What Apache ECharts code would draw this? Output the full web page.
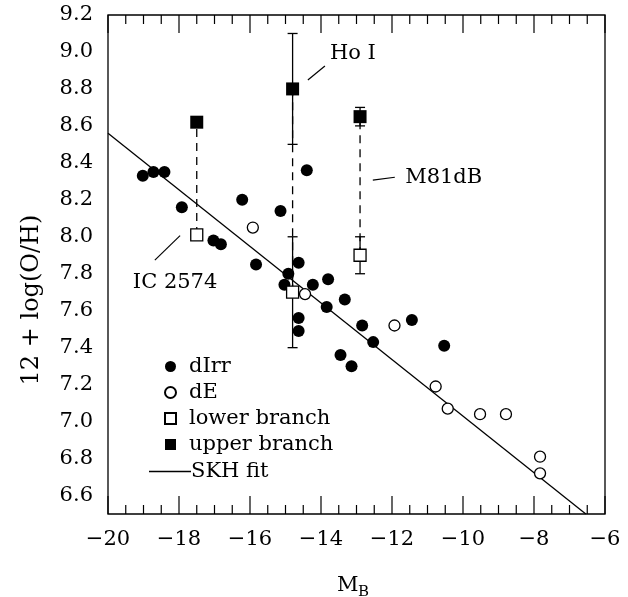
<!DOCTYPE html>
<html>
<head>
<meta charset="utf-8">
<script src="https://cdn.jsdelivr.net/npm/echarts@6/dist/echarts.min.js"></script>
<style>
  html, body { margin: 0; padding: 0; background: #fff; }
  #chart { width: 628px; height: 597px; }
</style>
</head>
<body>
<div id="chart"></div>
<script>
// Oxygen abundance versus absolute blue magnitude for dwarf galaxies.
const FONT = '"DejaVu Serif", "Liberation Serif", serif';

// dwarf irregulars: [M_B, 12 + log(O/H)]
const dIrr = [
  [-19.02, 8.33], [-18.72, 8.35], [-18.41, 8.35], [-17.92, 8.16], [-16.22, 8.20],
  [-15.14, 8.14], [-14.40, 8.36], [-17.03, 7.98], [-16.82, 7.96], [-15.83, 7.85],
  [-14.92, 7.80], [-14.63, 7.86], [-15.03, 7.74], [-14.23, 7.74], [-13.80, 7.77],
  [-13.84, 7.62], [-13.33, 7.66], [-14.63, 7.56], [-14.63, 7.49], [-13.45, 7.36],
  [-13.14, 7.30], [-12.84, 7.52], [-12.53, 7.43], [-11.44, 7.55], [-10.53, 7.41]
];

// dwarf ellipticals
const dE = [
  [-15.92, 8.05], [-14.45, 7.69], [-11.93, 7.52], [-10.77, 7.19], [-10.43, 7.07],
  [-9.52, 7.04], [-8.79, 7.04], [-7.83, 6.81], [-7.83, 6.72]
];

// galaxies with two abundance solutions
const branchNames = ['IC 2574', 'Ho I', 'M81dB'];
const branchMB    = [-17.50, -14.80, -12.90];
const lowerBranch = [8.01, 7.70, 7.90];
const lowerErr    = [0, 0.30, 0.10];
const upperBranch = [8.62, 8.80, 8.65];
const upperErr    = [0, 0.30, 0.05];

// SKH relation, end points of the plotted segment
const skhFit = [[-20, 8.56], [-6.54, 6.50]];

// axis ranges and ticks
const xRange = [-20, -6];
const yRange = [6.5, 9.2];
const xMajor = 2, xMinor = 0.5;
const yLabels = [6.6, 6.8, 7.0, 7.2, 7.4, 7.6, 7.8, 8.0, 8.2, 8.4, 8.6, 8.8, 9.0, 9.2];
const yMinor = 0.05;

// labels next to the two-branch galaxies: text anchor and leader line, in data units
const notes = [
  { text: 'Ho I',    at: [-13.75, 8.994], from: [-14.37, 8.848], to: [-13.89, 8.924] },
  { text: 'M81dB',   at: [-11.63, 8.323], from: [-12.54, 8.307], to: [-11.92, 8.322] },
  { text: 'IC 2574', at: [-19.30, 7.750], from: [-18.68, 7.874], to: [-17.97, 8.006] }
];

const lowerData = branchMB.map((x, i) => [x, lowerBranch[i]]);
const upperData = branchMB.map((x, i) => [x, upperBranch[i]]);
const barData = branchMB.map((x, i) => [x, lowerBranch[i], upperBranch[i], lowerErr[i], upperErr[i]]);

const INK = '#000';
const MAJOR_LEN = 18, MINOR_LEN = 9;
const near = (a, b) => Math.abs(a - b) < 1e-6;
const isYLabel = v => yLabels.some(l => near(l, v));

// inward ticks on all four sides of the box: [M_B, O/H, side kind (0 = x tick, 1 = y tick), length]
const frameTicks = [];
for (let k = 0; k <= Math.round((xRange[1] - xRange[0]) / xMinor); k++) {
  const v = xRange[0] + k * xMinor;
  const major = near(Math.round(v / xMajor) * xMajor, v);
  frameTicks.push([v, (yRange[0] + yRange[1]) / 2, 0, major ? MAJOR_LEN : MINOR_LEN]);
}
for (let k = 0; k <= Math.round((yRange[1] - yRange[0]) / yMinor); k++) {
  const v = +(yRange[0] + k * yMinor).toFixed(2);
  frameTicks.push([(xRange[0] + xRange[1]) / 2, v, 1, isYLabel(v) ? MAJOR_LEN : MINOR_LEN]);
}

const chart = echarts.init(document.getElementById('chart'), null, { renderer: 'canvas' });

const option = {
  animation: false,
  backgroundColor: '#fff',
  grid: { left: 108, top: 15, width: 497, height: 499 },
  xAxis: {
    type: 'value', min: xRange[0], max: xRange[1], interval: xMajor,
    axisLine: { show: false }, axisTick: { show: false }, splitLine: { show: false },
    axisLabel: {
      margin: 15, color: INK, fontFamily: FONT, fontSize: 21,
      formatter: v => (v < 0 ? '\u2212' : '') + Math.abs(v)
    }
  },
  yAxis: {
    type: 'value', min: yRange[0], max: yRange[1], interval: yMinor,
    axisLine: { show: false }, axisTick: { show: false }, splitLine: { show: false },
    axisLabel: {
      margin: 15, color: INK, fontFamily: FONT, fontSize: 21,
      formatter: v => (isYLabel(v) ? v.toFixed(1) : '')
    }
  },
  legend: [
    {
      data: ['dIrr', 'dE', 'lower branch', 'upper branch'],
      orient: 'vertical', left: 159, top: 351,
      itemWidth: 11, itemHeight: 11, itemGap: 5,
      selectedMode: false,
      textStyle: { fontFamily: FONT, fontSize: 21, color: INK, padding: [0, 0, 0, 8], lineHeight: 21 }
    },
    {
      data: [{ name: 'SKH fit', icon: 'rect' }],
      orient: 'vertical', left: 144, top: 456,
      itemWidth: 42, itemHeight: 1.3,
      selectedMode: false,
      itemStyle: { color: INK, borderWidth: 0 },
      textStyle: { fontFamily: FONT, fontSize: 21, color: INK, padding: [0, 0, 0, -5], lineHeight: 21 }
    }
  ],
  series: [
    {
      // box outline plus its inward ticks
      name: 'frame', type: 'custom', data: frameTicks, silent: true, clip: false, z: 20,
      renderItem: function (params, api) {
        const v = api.value(0), w = api.value(1), kind = api.value(2), len = api.value(3);
        const kids = [];
        const bar = (x, y, wd, ht) => kids.push({ type: 'rect', shape: { x: x, y: y, width: wd, height: ht },
                                                   style: { fill: INK } });
        if (params.dataIndex === 0) {
          const tl = api.coord([xRange[0], yRange[1]]), br = api.coord([xRange[1], yRange[0]]);
          kids.push({ type: 'rect',
                      shape: { x: tl[0], y: tl[1], width: br[0] - tl[0], height: br[1] - tl[1] },
                      style: { fill: 'none', stroke: INK, lineWidth: 1.3 } });
        }
        if (kind === 0) {
          const b = api.coord([v, yRange[0]]), t = api.coord([v, yRange[1]]);
          bar(b[0] - 0.6, b[1] - len, 1.2, len);
          bar(t[0] - 0.6, t[1], 1.2, len);
        } else {
          const l = api.coord([xRange[0], w === w ? v : v]), r = api.coord([xRange[1], v]);
          bar(l[0], l[1] - 0.6, len, 1.2);
          bar(r[0] - len, r[1] - 0.6, len, 1.2);
        }
        return { type: 'group', children: kids };
      }
    },
    {
      name: 'SKH fit', type: 'line',
      data: skhFit, symbol: 'none', silent: true,
      itemStyle: { color: INK },
      lineStyle: { color: INK, width: 1.3 }, z: 2
    },
    {
      name: 'branches', type: 'custom',
      data: barData, silent: true, z: 3,
      renderItem: function (params, api) {
        const x = api.value(0), lo = api.value(1), hi = api.value(2);
        const eLo = api.value(3), eHi = api.value(4);
        const pLo = api.coord([x, lo]), pHi = api.coord([x, hi]);
        const kids = [{
          type: 'line',
          shape: { x1: pLo[0], y1: pLo[1], x2: pHi[0], y2: pHi[1] },
          style: { stroke: INK, lineWidth: 1.3, lineDash: [8, 6] }
        }];
        function errBar(v, e) {
          if (!(e > 0)) return;
          const a = api.coord([x, v - e]), b = api.coord([x, v + e]);
          kids.push({ type: 'line', shape: { x1: a[0], y1: a[1], x2: b[0], y2: b[1] },
                      style: { stroke: INK, lineWidth: 1.3 } });
          kids.push({ type: 'line', shape: { x1: a[0] - 5, y1: a[1], x2: a[0] + 5, y2: a[1] },
                      style: { stroke: INK, lineWidth: 1.3 } });
          kids.push({ type: 'line', shape: { x1: b[0] - 5, y1: b[1], x2: b[0] + 5, y2: b[1] },
                      style: { stroke: INK, lineWidth: 1.3 } });
        }
        errBar(lo, eLo);
        errBar(hi, eHi);
        return { type: 'group', children: kids };
      }
    },
    {
      name: 'dIrr', type: 'scatter',
      data: dIrr, symbol: 'circle', symbolSize: 12,
      itemStyle: { color: INK, opacity: 1 }, z: 5
    },
    {
      name: 'dE', type: 'scatter',
      data: dE, symbol: 'circle', symbolSize: 11,
      itemStyle: { color: '#fff', borderColor: INK, borderWidth: 1.3, opacity: 1 }, z: 5
    },
    {
      name: 'lower branch', type: 'scatter',
      data: lowerData, symbol: 'rect', symbolSize: 12,
      itemStyle: { color: '#fff', borderColor: INK, borderWidth: 1.3, opacity: 1 }, z: 6
    },
    {
      name: 'upper branch', type: 'scatter',
      data: upperData, symbol: 'rect', symbolSize: 13,
      itemStyle: { color: INK, opacity: 1 }, z: 6
    }
  ]
};

chart.setOption(option);

// annotations and axis titles placed through the chart's coordinate conversion
const px = p => chart.convertToPixel({ xAxisIndex: 0, yAxisIndex: 0 }, p);
const graphics = [];
notes.forEach(n => {
  const a = px(n.from), b = px(n.to), t = px(n.at);
  graphics.push({
    type: 'line', shape: { x1: a[0], y1: a[1], x2: b[0], y2: b[1] },
    style: { stroke: INK, lineWidth: 1.2 }, z: 10
  });
  graphics.push({
    type: 'text', x: t[0], y: t[1],
    style: { text: n.text, font: '21px ' + FONT, fill: INK, textVerticalAlign: 'middle', textAlign: 'left' },
    z: 10
  });
});
graphics.push({
  type: 'text', x: 32, y: 300, rotation: Math.PI / 2,
  style: { text: '12 + log(O/H)', font: '24px ' + FONT, fill: INK, textAlign: 'center', textVerticalAlign: 'middle' }
});
graphics.push({
  type: 'text', x: 337, y: 586,
  style: { text: 'M', font: '21px ' + FONT, fill: INK, textAlign: 'left', textVerticalAlign: 'middle' }
});
graphics.push({
  type: 'text', x: 358, y: 592,
  style: { text: 'B', font: '15px ' + FONT, fill: INK, textAlign: 'left', textVerticalAlign: 'middle' }
});
chart.setOption({ graphic: graphics });
</script>
</body>
</html>
